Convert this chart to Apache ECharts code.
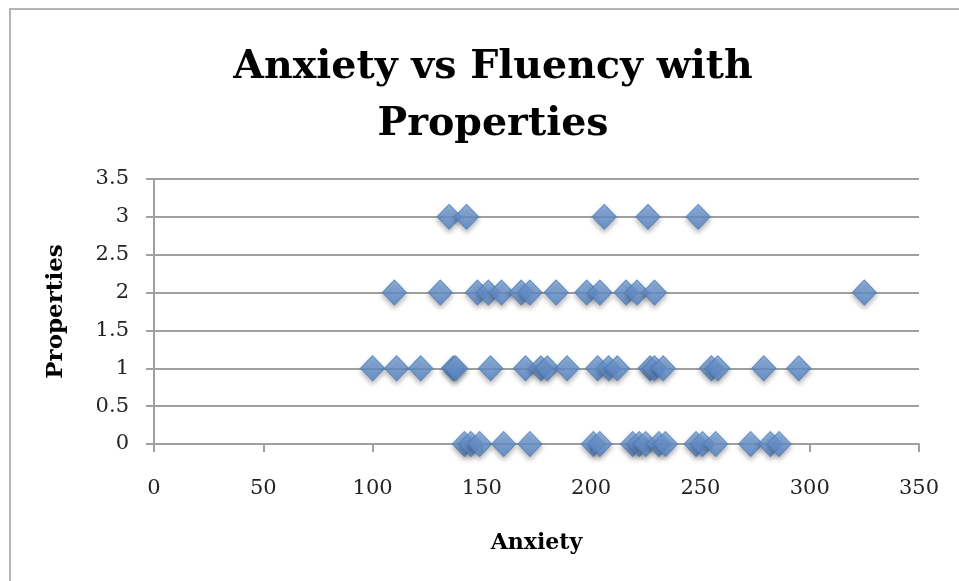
<!DOCTYPE html>
<html>
<head>
<meta charset="utf-8">
<script src="https://cdn.jsdelivr.net/npm/echarts@6/dist/echarts.min.js"></script>
<style>
html,body{margin:0;padding:0;background:#fff;}
#c{width:959px;height:581px;}
</style>
</head>
<body>
<div id="c"></div>
<script>
const anxiety0 = [142, 145, 149, 160, 172, 201, 204, 219, 222, 225, 231, 234, 248, 251, 257, 273, 282, 286];
const anxiety1 = [100, 111, 122, 137, 138, 154, 170, 177, 180, 189, 203, 208, 212, 227, 229, 233, 255, 258, 279, 295];
const anxiety2 = [110, 131, 148, 153, 159, 168, 172, 184, 198, 204, 216, 221, 229, 325];
const anxiety3 = [135, 143, 206, 226, 249];
const propertyLevels = [0, 1, 2, 3];

const groups = [anxiety0, anxiety1, anxiety2, anxiety3];
const points = [];
groups.forEach((arr, i) => arr.forEach(v => points.push([v, propertyLevels[i]])));

const serif = '"DejaVu Serif", "Liberation Serif", serif';
const chart = echarts.init(document.getElementById('c'));
chart.setOption({
  backgroundColor: '#fff',
  animation: false,
  title: {
    text: 'Anxiety vs Fluency with\nProperties',
    left: 488,
    textAlign: 'center',
    top: 34,
    textStyle: { fontFamily: serif, fontWeight: 'bold', fontSize: 39.5, lineHeight: 57, color: '#000' }
  },
  graphic: [{
    type: 'rect', shape: { x: 10, y: 9, width: 960, height: 590 },
    style: { fill: 'none', stroke: '#b4b4b4', lineWidth: 2 }, silent: true
  }],
  grid: { left: 154, right: 40, top: 179, bottom: 137 },
  xAxis: {
    type: 'value', min: 0, max: 350, interval: 50,
    name: 'Anxiety', nameLocation: 'middle', nameGap: 88,
    nameTextStyle: { fontFamily: serif, fontWeight: 'bold', fontSize: 22, color: '#000' },
    axisLine: { show: true, lineStyle: { color: '#a0a0a0', width: 2 } },
    axisTick: { show: true, length: 8, lineStyle: { color: '#a0a0a0', width: 2 } },
    axisLabel: { fontFamily: serif, fontSize: 21, color: '#222', margin: 34 },
    splitLine: { show: false }
  },
  yAxis: {
    type: 'value', min: 0, max: 3.5, interval: 0.5,
    name: 'Properties', nameLocation: 'middle', nameGap: 86, nameRotate: 90,
    nameTextStyle: { fontFamily: serif, fontWeight: 'bold', fontSize: 23, color: '#000' },
    axisLine: { show: true, lineStyle: { color: '#a0a0a0', width: 2 } },
    axisTick: { show: true, length: 8, lineStyle: { color: '#a0a0a0', width: 2 } },
    axisLabel: { fontFamily: serif, fontSize: 21, color: '#222', margin: 25 },
    splitLine: { show: true, lineStyle: { color: '#a0a0a0', width: 2 } }
  },
  series: [{
    type: 'scatter',
    data: points,
    symbol: 'diamond',
    symbolSize: [24, 25],
    itemStyle: {
      color: new echarts.graphic.LinearGradient(0, 0, 0, 1, [
        { offset: 0, color: '#7ea7de' },
        { offset: 1, color: '#5684c6' }
      ]),
      borderColor: '#4a7ebb',
      borderWidth: 1,
      shadowColor: 'rgba(0,0,0,0.35)',
      shadowBlur: 5,
      shadowOffsetY: 3
    }
  }]
});
</script>
</body>
</html>
